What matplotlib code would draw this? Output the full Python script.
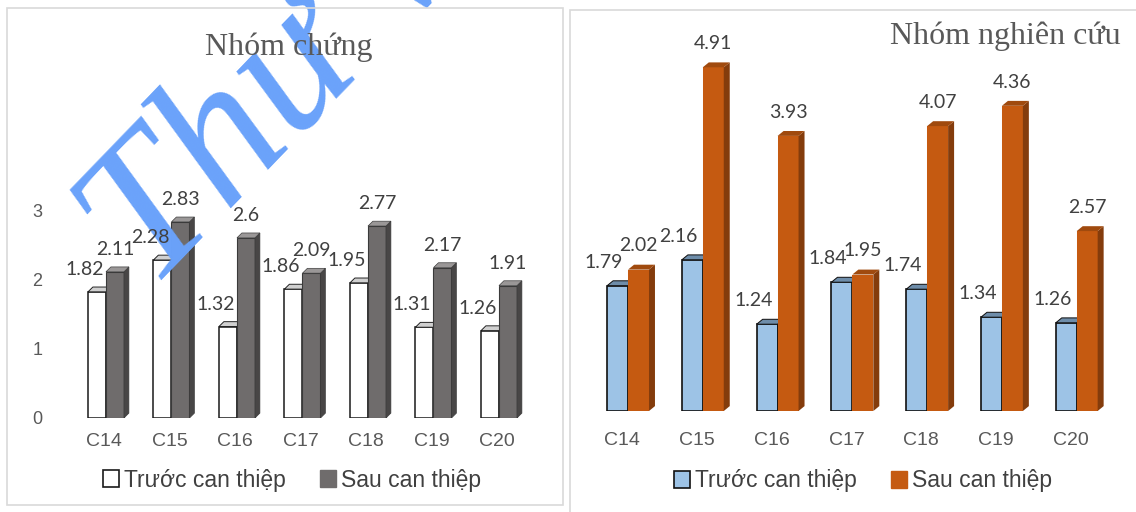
import matplotlib
matplotlib.use('Agg')
import matplotlib.pyplot as plt
from matplotlib.patches import Rectangle, Polygon
import numpy as np

categories = ['C14', 'C15', 'C16', 'C17', 'C18', 'C19', 'C20']
control_before = [1.82, 2.28, 1.32, 1.86, 1.95, 1.31, 1.26]
control_after = [2.11, 2.83, 2.60, 2.09, 2.77, 2.17, 1.91]
study_before = [1.79, 2.16, 1.24, 1.84, 1.74, 1.34, 1.26]
study_after = [2.02, 4.91, 3.93, 1.95, 4.07, 4.36, 2.57]
control_before_text = ['1.82', '2.28', '1.32', '1.86', '1.95', '1.31', '1.26']
control_after_text = ['2.11', '2.83', '2.6', '2.09', '2.77', '2.17', '1.91']
legend_labels = ['Trước can thiệp', 'Sau can thiệp']
titles = ['Nhóm chứng', 'Nhóm nghiên cứu']
control_ticks = [0, 1, 2, 3]
watermark = 'Thư viện'

W, H = 1136, 512
fig = plt.figure(figsize=(W / 100, H / 100), dpi=100)
fig.patch.set_facecolor('white')

def px_axes(x0, x1, y_top, y_bottom):
    return fig.add_axes([x0 / W, 1 - y_bottom / H, (x1 - x0) / W, (y_bottom - y_top) / H])

# panel borders
for (x0, y0, x1, y1) in [(7, 8, 563, 505), (570, 10, 1140, 515)]:
    fig.patches.append(Rectangle((x0 / W, 1 - y1 / H), (x1 - x0) / W, (y1 - y0) / H,
                                 transform=fig.transFigure, fill=False,
                                 edgecolor='#D9D9D9', lw=1.2, zorder=0))

def bars3d(ax, xs, vals, w, front, side, top, edge, elw, dx, dy):
    for x, v in zip(xs, vals):
        ax.bar(x, v, width=w, color=front, edgecolor=edge, linewidth=elw, zorder=1)
        xr = x + w / 2
        xl = x - w / 2
        ax.add_patch(Polygon([(xr, 0), (xr + dx, dy), (xr + dx, v + dy), (xr, v)],
                             closed=True, facecolor=side, edgecolor=edge,
                             linewidth=elw * 0.6, zorder=1))
        ax.add_patch(Polygon([(xl, v), (xr, v), (xr + dx, v + dy), (xl + dx, v + dy)],
                             closed=True, facecolor=top, edgecolor=edge,
                             linewidth=elw * 0.6, zorder=1))

def setup(ax, ylim):
    ax.set_xlim(-0.6, 6.6)
    ax.set_ylim(*ylim)
    for s in ax.spines.values():
        s.set_visible(False)
    ax.set_facecolor('none')
    ax.tick_params(length=0)

label_font = ['Lato', 'DejaVu Sans']
x = np.arange(len(categories))

# ---------- left panel ----------
axL = px_axes(64.7, 536.3, 418 - 3.6 * 69.3, 418)
setup(axL, (0, 3.6))
wL = 0.275
dxL, dyL = 0.075, 0.07
offL = 0.03
bars3d(axL, x - wL / 2 + offL, control_before, wL, 'white', '#E0E0E0', '#D0D0D0', '#1A1A1A', 1.1, dxL, dyL)
bars3d(axL, x + wL / 2 + offL, control_after, wL, '#6F6C6C', '#484646', '#9A9797', '#3A3A3A', 0.8, dxL, dyL)
axL.set_xticks(x)
axL.set_xticklabels(categories, fontsize=14, color='#595959', family='Liberation Sans')
axL.tick_params(axis='x', pad=11)
axL.set_yticks(control_ticks)
axL.set_yticklabels([str(t) for t in control_ticks], fontsize=13, color='#595959', family='Liberation Sans')
axL.tick_params(axis='y', pad=16)
for i in range(len(categories)):
    axL.annotate(control_before_text[i], (x[i] - wL / 2 + offL, control_before[i]), xytext=(-9, 16),
                 textcoords='offset points', ha='center', va='center', fontsize=14,
                 color='#404040', family=label_font, zorder=5)
    axL.annotate(control_after_text[i], (x[i] + wL / 2 + offL, control_after[i]), xytext=(0, 16),
                 textcoords='offset points', ha='center', va='center', fontsize=14,
                 color='#404040', family=label_font, zorder=5)
fig.text(289 / W, 1 - 47 / H, titles[0], ha='center', va='center', fontsize=23,
         color='#595959', family='Liberation Serif')
hL = [Rectangle((0, 0), 1, 1, facecolor='white', edgecolor='#1A1A1A', lw=1.2),
      Rectangle((0, 0), 1, 1, facecolor='#6F6C6C', edgecolor='#6F6C6C')]
fig.legend(hL, legend_labels, loc='center', bbox_to_anchor=(292 / W, 1 - 480 / H), ncol=2,
           frameon=False, prop={'family': 'Liberation Sans', 'size': 16.5}, handlelength=0.7,
           handleheight=0.7, handletextpad=0.2, columnspacing=1.5, labelcolor='#404040')

# watermark (over bars, under data labels)
axL.text(150 / W, 1 - 292 / H, watermark, transform=fig.transFigure, rotation=46,
         rotation_mode='anchor', ha='left', va='baseline', fontsize=142, style='italic',
         family='Liberation Serif', color='#6AA2FA', zorder=3, clip_on=False)

# ---------- right panel ----------
axR = px_axes(577.2, 1115.6, 411 - 5.5 * 70, 411)
setup(axR, (0, 5.5))
wR = 0.28
dxR, dyR = 0.08, 0.07
offR = 0.08
bars3d(axR, x - wR / 2 + offR, study_before, wR, '#9DC3E6', '#6E8DAA', '#6E8DAA', '#111111', 1.2, dxR, dyR)
bars3d(axR, x + wR / 2 + offR, study_after, wR, '#C55A11', '#843C0C', '#A04A0E', '#C55A11', 0.01, dxR, dyR)
axR.set_xticks(x)
axR.set_xticklabels(categories, fontsize=14, color='#595959', family='Liberation Sans')
axR.tick_params(axis='x', pad=15)
axR.set_yticks([])
for i in range(len(categories)):
    axR.annotate(f'{study_before[i]:.2f}', (x[i] - wR / 2 + offR, study_before[i]), xytext=(-10, 17),
                 textcoords='offset points', ha='center', va='center', fontsize=14,
                 color='#404040', family=label_font, zorder=5)
    axR.annotate(f'{study_after[i]:.2f}', (x[i] + wR / 2 + offR, study_after[i]), xytext=(0, 17),
                 textcoords='offset points', ha='center', va='center', fontsize=14,
                 color='#404040', family=label_font, zorder=5)
fig.text(1005 / W, 1 - 36 / H, titles[1], ha='center', va='center', fontsize=23,
         color='#595959', family='Liberation Serif')
hR = [Rectangle((0, 0), 1, 1, facecolor='#9DC3E6', edgecolor='#111111', lw=1.2),
      Rectangle((0, 0), 1, 1, facecolor='#C55A11', edgecolor='#C55A11')]
fig.legend(hR, legend_labels, loc='center', bbox_to_anchor=(863 / W, 1 - 481 / H), ncol=2,
           frameon=False, prop={'family': 'Liberation Sans', 'size': 16.5}, handlelength=0.7,
           handleheight=0.7, handletextpad=0.2, columnspacing=1.5, labelcolor='#404040')

fig.savefig('out.png', dpi=100, facecolor='white')
